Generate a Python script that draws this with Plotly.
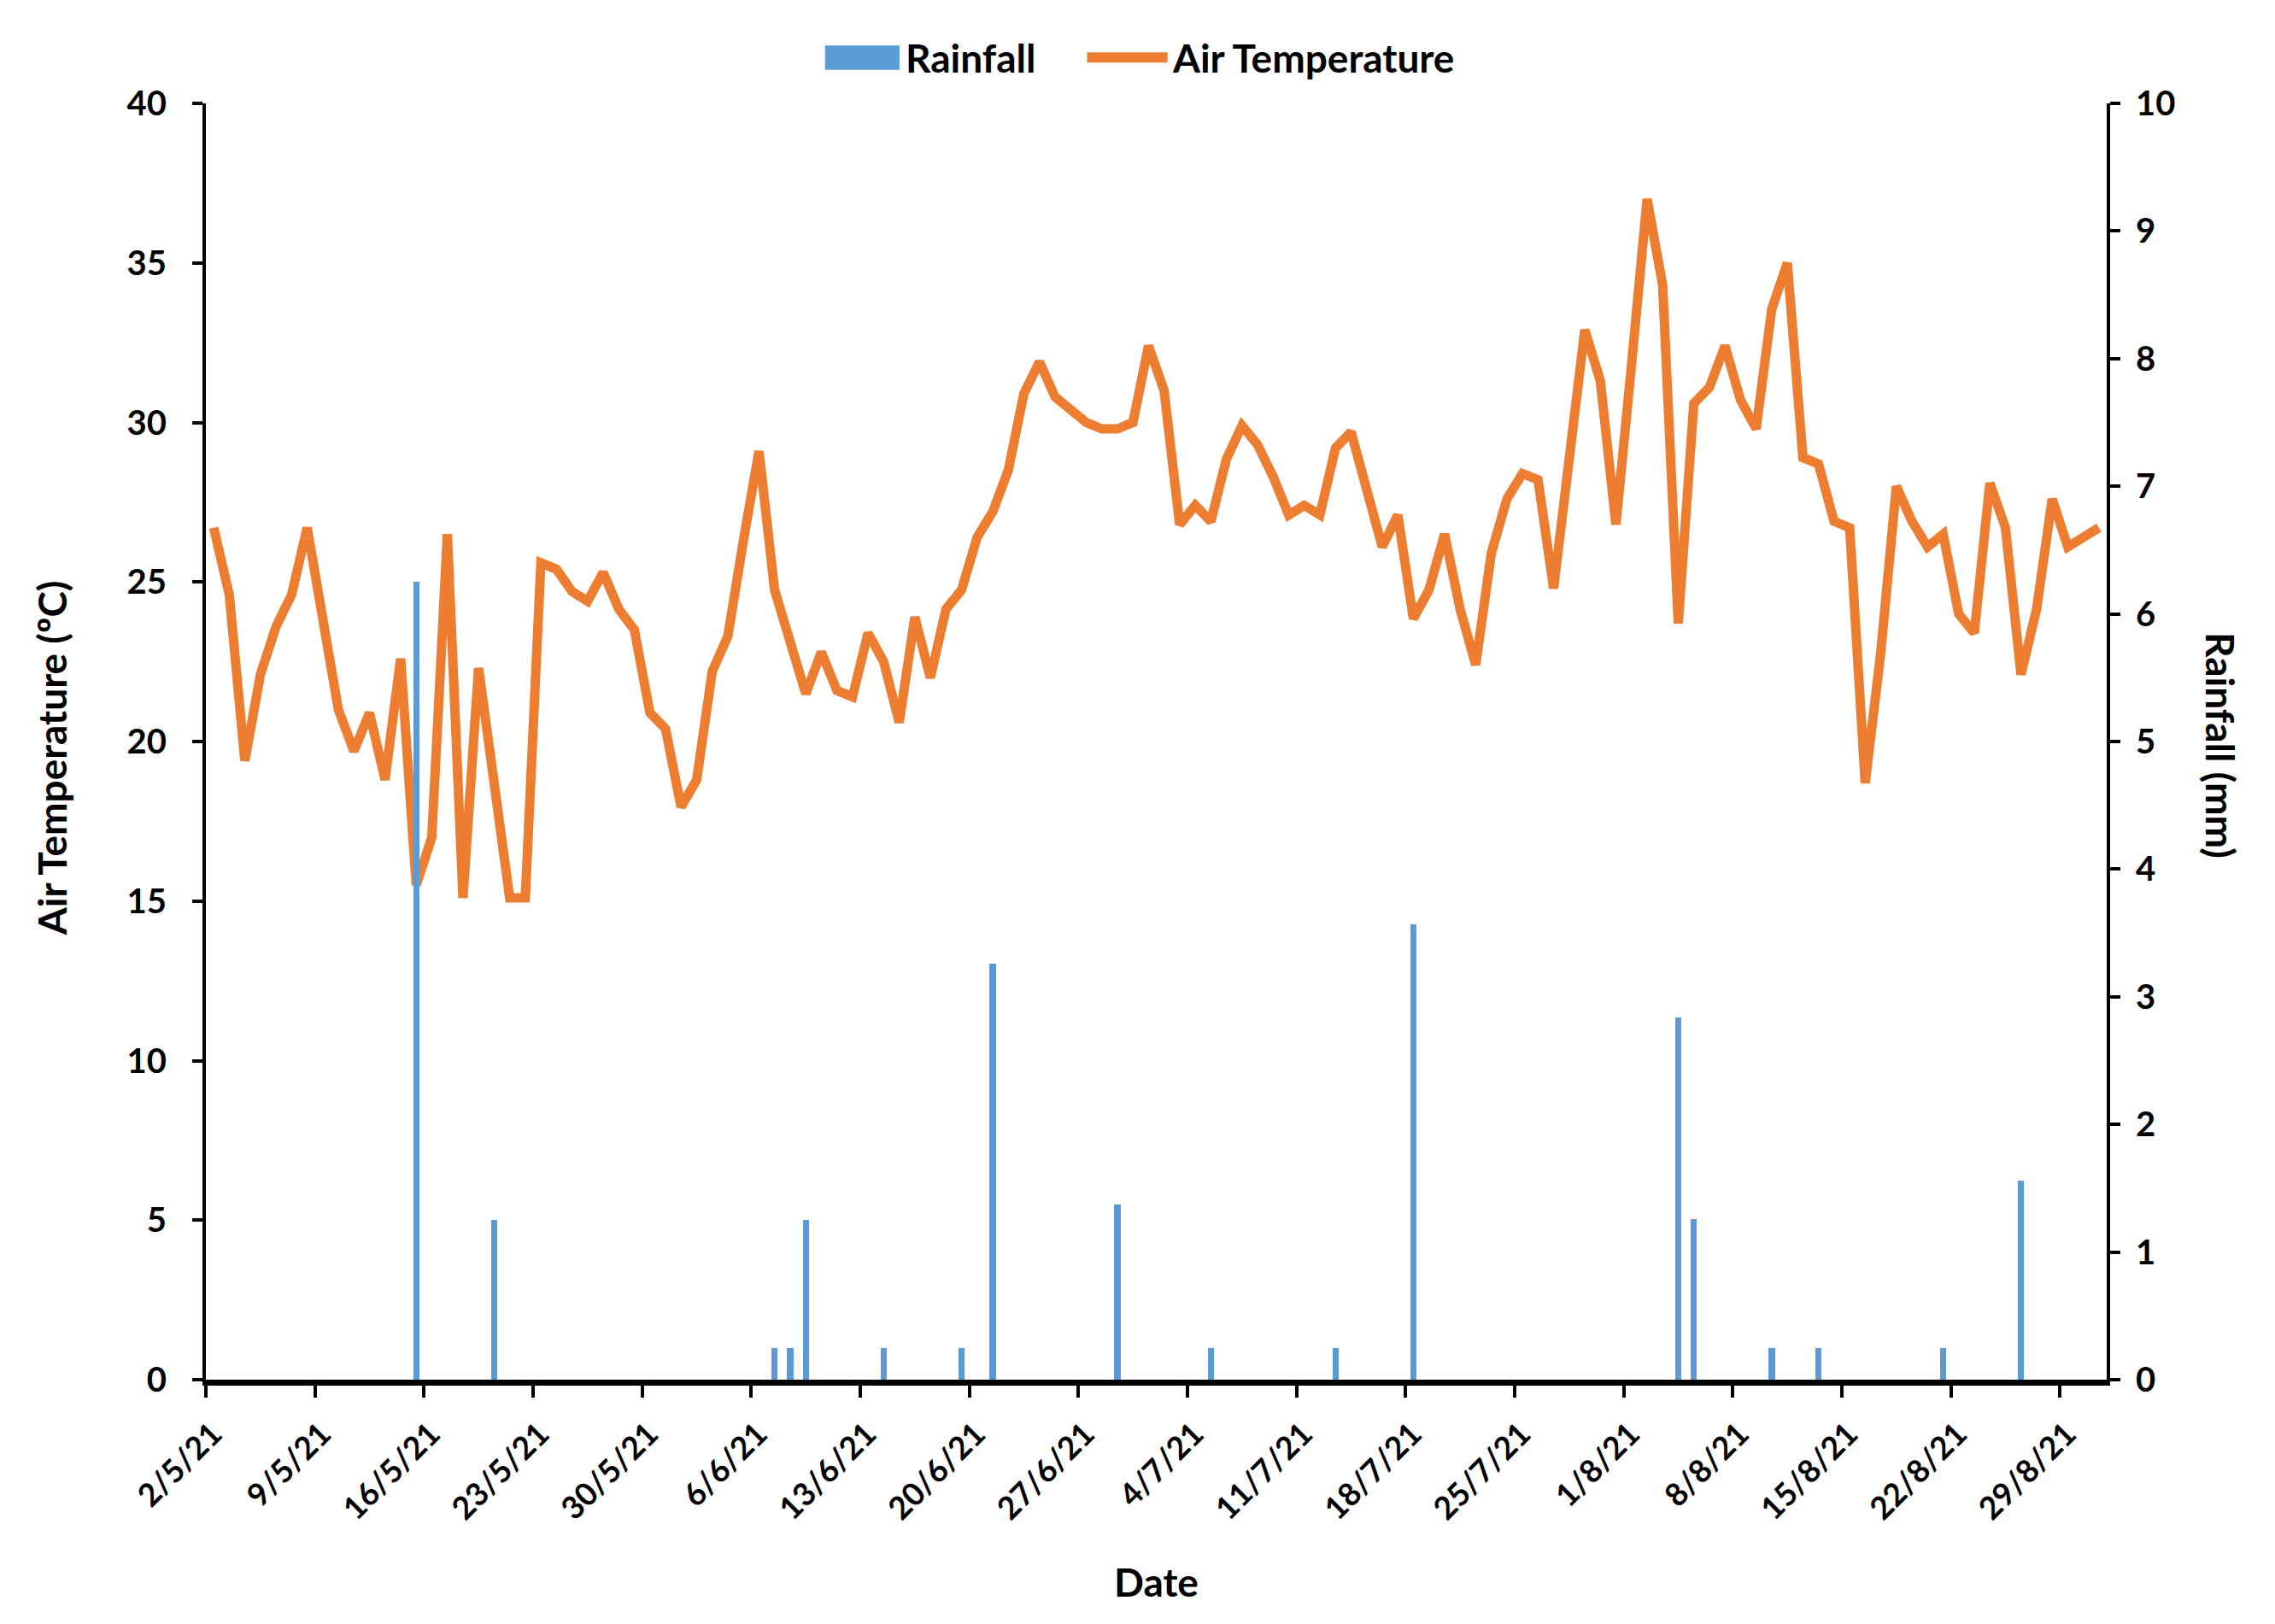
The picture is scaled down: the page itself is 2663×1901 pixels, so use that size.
import pandas as pd
import plotly.graph_objects as go

# Daily air temperature (°C), 2 May 2021 - 31 Aug 2021
start_date = "2021-05-02"
air_temp = [
    26.7, 24.6, 19.4, 22.1, 23.6, 24.6, 26.7, 23.9, 21.0, 19.7,
    20.9, 18.8, 22.6, 15.5, 17.0, 26.5, 15.1, 22.3, 18.8, 15.1,
    15.1, 25.6, 25.4, 24.7, 24.4, 25.3, 24.15, 23.5, 20.9, 20.4,
    17.95, 18.8, 22.2, 23.3, 26.3, 29.1, 24.75, 23.1, 21.5, 22.8,
    21.6, 21.4, 23.4, 22.5, 20.6, 23.9, 22.0, 24.15, 24.75, 26.4,
    27.2, 28.5, 30.9, 31.9, 30.8, 30.4, 30.0, 29.8, 29.8, 30.0,
    32.4, 31.0, 26.8, 27.4, 26.9, 28.85, 29.9, 29.3, 28.3, 27.1,
    27.4, 27.1, 29.2, 29.7, 27.9, 26.1, 27.1, 23.85, 24.75, 26.5,
    24.15, 22.4, 25.9, 27.6, 28.4, 28.2, 24.8, 29.0, 32.9, 31.3,
    26.8, 31.8, 37.0, 34.3, 23.7, 30.6, 31.1, 32.4, 30.7, 29.8,
    33.55, 35.0, 28.9, 28.7, 26.9, 26.7, 18.7, 22.8, 28.0, 26.9,
    26.1, 26.5, 24.0, 23.4, 28.1, 26.7, 22.1, 24.15, 27.6, 26.1,
    26.4, 26.7,
]

# Rainfall (mm) on rain days
rain_dates = [
    "2021-05-15", "2021-05-20", "2021-06-07", "2021-06-08", "2021-06-09",
    "2021-06-14", "2021-06-19", "2021-06-21", "2021-06-29", "2021-07-05",
    "2021-07-13", "2021-07-18", "2021-08-04", "2021-08-05", "2021-08-10",
    "2021-08-13", "2021-08-21", "2021-08-26",
]
rain_mm = [
    6.25, 1.25, 0.25, 0.25, 1.25,
    0.25, 0.25, 3.26, 1.37, 0.25,
    0.25, 3.57, 2.84, 1.26, 0.25,
    0.25, 0.25, 1.56,
]

tick_dates = [
    "2021-05-02", "2021-05-09", "2021-05-16", "2021-05-23", "2021-05-30",
    "2021-06-06", "2021-06-13", "2021-06-20", "2021-06-27", "2021-07-04",
    "2021-07-11", "2021-07-18", "2021-07-25", "2021-08-01", "2021-08-08",
    "2021-08-15", "2021-08-22", "2021-08-29",
]
tick_labels = [
    "2/5/21", "9/5/21", "16/5/21", "23/5/21", "30/5/21", "6/6/21",
    "13/6/21", "20/6/21", "27/6/21", "4/7/21", "11/7/21", "18/7/21",
    "25/7/21", "1/8/21", "8/8/21", "15/8/21", "22/8/21", "29/8/21",
]

RAIN_COLOR = "#5B9BD5"
TEMP_COLOR = "#ED7D31"

temp_x = pd.date_range(start_date, periods=len(air_temp), freq="D") + pd.Timedelta(hours=12)
rain_x = pd.to_datetime(rain_dates) + pd.Timedelta(hours=12)

FONT = "Lato"
tickf = dict(family=FONT, size=40, color="black", weight="bold")
titlef = dict(family=FONT, size=46, color="black", weight="bold")

fig = go.Figure()
fig.add_trace(go.Bar(
    x=rain_x, y=rain_mm, name="Rainfall", yaxis="y2",
    marker=dict(color=RAIN_COLOR, line=dict(width=0)),
    width=0.4 * 86400000, showlegend=False,
))
fig.add_trace(go.Scatter(
    x=temp_x, y=air_temp, name="Air Temperature", yaxis="y",
    mode="lines", line=dict(color=TEMP_COLOR, width=11), showlegend=False,
))

fig.update_layout(
    width=2663, height=1901,
    margin=dict(l=241, r=197, t=121, b=286),
    paper_bgcolor="white", plot_bgcolor="white",
    font=dict(family=FONT, color="black"),
    showlegend=False,
    xaxis=dict(
        type="date",
        range=["2021-05-02", "2021-09-01"],
        tickvals=pd.to_datetime(tick_dates), ticktext=tick_labels,
        tickangle=-45,
        tickfont=dict(family=FONT, size=37, color="black", weight="bold"),
        ticks="outside", ticklen=14, tickwidth=4, tickcolor="black",
        ticklabelstandoff=6, ticklabelshift=8,
        showline=True, linecolor="black", linewidth=7,
        showgrid=False, zeroline=False,
    ),
    yaxis=dict(
        range=[0, 40], dtick=5, tick0=0,
        tickfont=tickf,
        ticks="outside", ticklen=12, tickwidth=4, tickcolor="black",
        ticklabelstandoff=22,
        showline=True, linecolor="black", linewidth=4,
        showgrid=False, zeroline=False,
    ),
    yaxis2=dict(
        range=[0, 10], dtick=1, tick0=0,
        overlaying="y", side="right",
        tickfont=tickf,
        ticks="outside", ticklen=12, tickwidth=4, tickcolor="black",
        ticklabelstandoff=10,
        showline=True, linecolor="black", linewidth=4,
        showgrid=False, zeroline=False,
    ),
    bargap=0,
)

# Custom legend (swatches sized like the original)
fig.add_shape(type="rect", xref="paper", yref="paper",
              x0=0.3257, x1=0.3649, y0=1.0263, y1=1.0453,
              fillcolor=RAIN_COLOR, line=dict(width=0))
fig.add_shape(type="line", xref="paper", yref="paper",
              x0=0.4636, x1=0.5059, y0=1.0359, y1=1.0359,
              line=dict(color=TEMP_COLOR, width=12))
fig.add_annotation(text="Rainfall", xref="paper", yref="paper",
                   x=0.3672, y=1.0355, xanchor="left", yanchor="middle",
                   showarrow=False, font=titlef)
fig.add_annotation(text="Air Temperature", xref="paper", yref="paper",
                   x=0.5075, y=1.0355, xanchor="left", yanchor="middle",
                   showarrow=False, font=titlef)

# Axis titles
fig.add_annotation(
    text="Air Temperature (ºC)", xref="paper", yref="paper",
    x=-0.081, y=0.487, xanchor="center", yanchor="middle",
    textangle=-90, showarrow=False, font=titlef,
)
fig.add_annotation(
    text="Rainfall (mm)", xref="paper", yref="paper",
    x=1.06, y=0.497, xanchor="center", yanchor="middle",
    textangle=90, showarrow=False, font=titlef,
)
fig.add_annotation(
    text="Date", xref="paper", yref="paper",
    x=0.5, y=-0.158, xanchor="center", yanchor="middle",
    showarrow=False, font=titlef,
)

fig.write_html("out.html")
